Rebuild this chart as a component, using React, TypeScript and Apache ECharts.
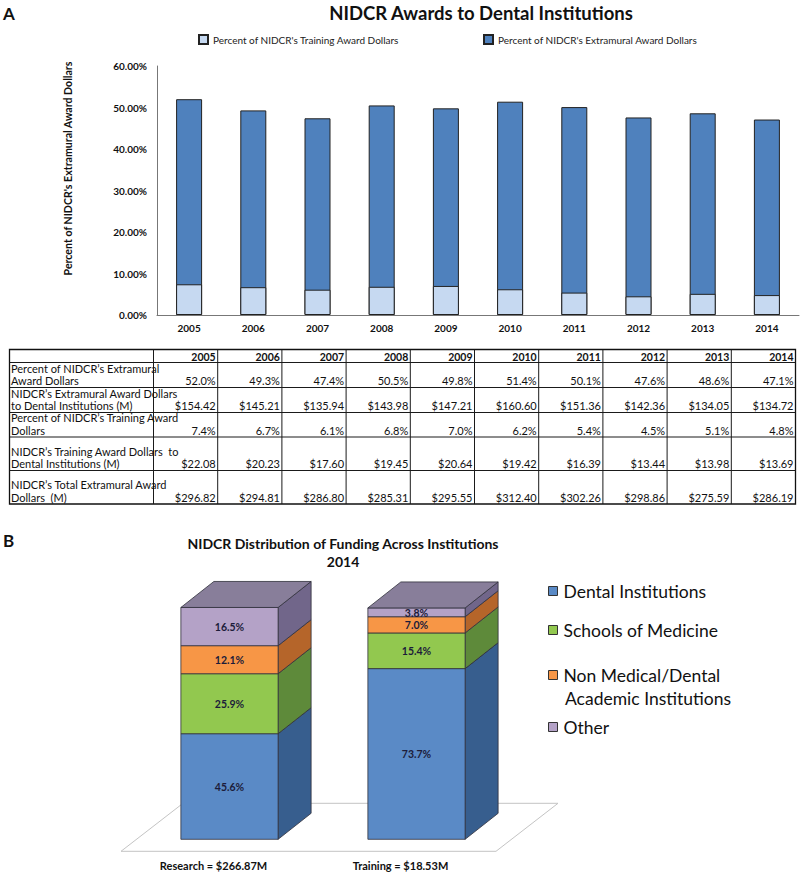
import React, { useEffect, useRef } from 'react';
import * as echarts from 'echarts';

// ---------- Data ----------
const years = ['2005', '2006', '2007', '2008', '2009', '2010', '2011', '2012', '2013', '2014'];
const extramuralPct = [52.0, 49.3, 47.4, 50.5, 49.8, 51.4, 50.1, 47.6, 48.6, 47.1];
const extramuralDollars = [154.42, 145.21, 135.94, 143.98, 147.21, 160.6, 151.36, 142.36, 134.05, 134.72];
const trainingPct = [7.4, 6.7, 6.1, 6.8, 7.0, 6.2, 5.4, 4.5, 5.1, 4.8];
const trainingDollars = [22.08, 20.23, 17.6, 19.45, 20.64, 19.42, 16.39, 13.44, 13.98, 13.69];
const totalDollars = [296.82, 294.81, 286.8, 285.31, 295.55, 312.4, 302.26, 298.86, 275.59, 286.19];

const yMin = 0;
const yMax = 60;
const yInterval = 10;

const tableLabels = [
  'Percent of NIDCR’s Extramural\nAward Dollars',
  'NIDCR’s Extramural Award Dollars\nto Dental Institutions (M)',
  'Percent of NIDCR’s Training Award\nDollars',
  'NIDCR’s Training Award Dollars  to\nDental Institutions (M)',
  'NIDCR’s Total Extramural Award\nDollars  (M)',
];

const fundingCategories = ['Research', 'Training'];
const fundingTotals = [266.87, 18.53];
const institutionTypes = ['Dental Institutions', 'Schools of Medicine', 'Non Medical/Dental Academic Institutions', 'Other'];
const dentalShare = [45.6, 73.7];
const medicineShare = [25.9, 15.4];
const nonMedicalShare = [12.1, 7.0];
const otherShare = [16.5, 3.8];

// ---------- Styles ----------
const FONT = 'Lato, "Noto Sans", sans-serif';
const TRAIN_NAME = "Percent of NIDCR's Training Award Dollars";
const EXTRA_NAME = "Percent of NIDCR's Extramural Award Dollars";

const instColors = [
  { front: '#5A8AC6', side: '#375E8E', top: '#3F6A9E' },
  { front: '#92C84F', side: '#5E8A3A', top: '#6E9B45' },
  { front: '#F79646', side: '#B5652A', top: '#C87433' },
  { front: '#B4A2C7', side: '#71668A', top: '#887E9A' },
];

const pct1 = (v: number) => v.toFixed(1) + '%';
const money = (v: number) => '$' + v.toFixed(2);

function txt(x: number, y: number, text: string, font: string, align: string, vAlign: string, extra: any = {}) {
  return {
    type: 'text',
    x,
    y,
    style: {
      text, fill: '#111', font,
      align, verticalAlign: vAlign, textAlign: align, textVerticalAlign: vAlign,
      ...extra,
    },
  };
}

function buildTable(): any[] {
  const rows = [
    { values: extramuralPct, fmt: pct1 },
    { values: extramuralDollars, fmt: money },
    { values: trainingPct, fmt: pct1 },
    { values: trainingDollars, fmt: money },
    { values: totalDollars, fmt: money },
  ];
  const x0 = 9.5;
  const labelRight = 153.5;
  const colW = 64.2;
  const top = 349.5;
  const rowH = [13, 25, 25, 24.5, 33.5, 33.5];
  const right = labelRight + colW * years.length;
  const totalH = rowH.reduce((a, b) => a + b, 0);
  const els: any[] = [];
  const lineStyle = { stroke: '#1a1a1a', lineWidth: 1 };
  els.push({
    type: 'rect',
    shape: { x: x0, y: top, width: right - x0, height: totalH },
    style: { fill: 'transparent', stroke: '#111', lineWidth: 1.3 },
  });
  let y = top;
  const bottoms: number[] = [];
  rowH.forEach((h, i) => {
    y += h;
    bottoms.push(y);
    if (i < rowH.length - 1) {
      els.push({ type: 'line', shape: { x1: x0, y1: y, x2: right, y2: y }, style: lineStyle });
    }
  });
  for (let k = 0; k < years.length; k++) {
    const x = labelRight + k * colW;
    els.push({ type: 'line', shape: { x1: x, y1: top, x2: x, y2: top + totalH }, style: lineStyle });
  }
  years.forEach((yr, k) => {
    const xr = labelRight + (k + 1) * colW - 2;
    els.push(txt(xr, top + rowH[0] / 2 + 0.5, yr, `bold 10.5px ${FONT}`, 'right', 'middle'));
  });
  rows.forEach((row, r) => {
    const yb = bottoms[r + 1];
    els.push(txt(11, yb - 0.5, tableLabels[r], `11px ${FONT}`, 'left', 'bottom', { lineHeight: 12.5 }));
    row.values.forEach((v, k) => {
      const xr = labelRight + (k + 1) * colW - 2;
      els.push(txt(xr, yb - 0.5, row.fmt(v), `11px ${FONT}`, 'right', 'bottom', { lineHeight: 12.5 }));
    });
  });
  return els;
}

const DX = 33;
const DY = -26;

function makeInstSeries(idx: number, shares: number[][]): any {
  const own = shares[idx];
  const data = own.map((v, i) => {
    let base = 0;
    for (let j = 0; j < idx; j++) base += shares[j][i];
    return [i, base, v];
  });
  const c = instColors[idx];
  const isTop = idx === shares.length - 1;
  return {
    name: institutionTypes[idx],
    type: 'custom',
    xAxisIndex: 1,
    yAxisIndex: 1,
    itemStyle: { color: c.front },
    encode: { x: 0, y: 1 },
    data,
    z: 3 + idx,
    renderItem: (params: any, api: any) => {
      const xi = api.value(0);
      const base = api.value(1);
      const val = api.value(2);
      const p0 = api.coord([xi, base]);
      const p1 = api.coord([xi, base + val]);
      const bw = api.size([1, 0])[0] * 0.52;
      const xl = p0[0] - bw / 2;
      const xr = p0[0] + bw / 2;
      const yb = p0[1];
      const yt = p1[1];
      const stroke = '#2f2f3a';
      const children: any[] = [
        {
          type: 'polygon',
          shape: { points: [[xr, yb], [xr, yt], [xr + DX, yt + DY], [xr + DX, yb + DY]] },
          style: { fill: c.side, stroke, lineWidth: 0.8 },
        },
        {
          type: 'rect',
          shape: { x: xl, y: yt, width: bw, height: yb - yt },
          style: { fill: c.front, stroke, lineWidth: 0.8 },
        },
      ];
      if (isTop) {
        children.push({
          type: 'polygon',
          shape: { points: [[xl, yt], [xr, yt], [xr + DX, yt + DY], [xl + DX, yt + DY]] },
          style: { fill: c.top, stroke, lineWidth: 0.8 },
        });
      }
      children.push({
        type: 'text',
        x: (xl + xr) / 2,
        y: (yt + yb) / 2 + 0.5,
        style: {
          text: val.toFixed(1) + '%', fill: '#1c1c3a', font: `bold 10.5px ${FONT}`,
          align: 'center', verticalAlign: 'middle', textAlign: 'center', textVerticalAlign: 'middle',
        },
      });
      return { type: 'group', children };
    },
  };
}

export default function App() {
  const ref = useRef<HTMLDivElement>(null);
  useEffect(() => {
    if (!ref.current) return;
    const chart = echarts.init(ref.current, undefined, { renderer: 'svg' });
    const shares = [dentalShare, medicineShare, nonMedicalShare, otherShare];

    const legendCenters = [591, 630, 675, 727];
    const legendB = institutionTypes.map((name, i) => ({
      data: [name],
      left: 543,
      top: legendCenters[i] - 10 - 5,
      icon: 'rect',
      itemWidth: 9,
      itemHeight: 9,
      itemGap: 0,
      itemStyle: { borderColor: '#333', borderWidth: 1 },
      selectedMode: false,
      formatter: (n: string) => (i === 2 ? 'Non Medical/Dental' : n),
      textStyle: { fontFamily: FONT, fontSize: 17.5, color: '#111', lineHeight: 20, padding: [0, 0, 0, 1] },
    }));

    const option: any = {
      animation: false,
      textStyle: { fontFamily: FONT },
      graphic: [
        txt(3, 13, 'A', `bold 17px ${FONT}`, 'left', 'middle'),
        txt(481, 13, 'NIDCR Awards to Dental Institutions', `bold 18.5px ${FONT}`, 'center', 'middle'),
        txt(3, 540, 'B', `bold 17px ${FONT}`, 'left', 'middle'),
        txt(343, 543, 'NIDCR Distribution of Funding Across Institutions', `bold 14px ${FONT}`, 'center', 'middle'),
        txt(343, 561, '2014', `bold 14px ${FONT}`, 'center', 'middle'),
        txt(565, 698, 'Academic Institutions', `17.5px ${FONT}`, 'left', 'middle'),
        ...buildTable(),
      ],
      legend: [
        {
          data: [TRAIN_NAME], left: 193, top: 29, icon: 'rect', itemWidth: 9, itemHeight: 9, selectedMode: false,
          textStyle: { fontFamily: FONT, fontSize: 10, color: '#222' },
        },
        {
          data: [EXTRA_NAME], left: 478, top: 29, icon: 'rect', itemWidth: 9, itemHeight: 9, selectedMode: false,
          textStyle: { fontFamily: FONT, fontSize: 10, color: '#222' },
        },
        ...legendB,
      ],
      grid: [
        { left: 157, top: 66, width: 642, height: 249 },
        { left: 136, top: 607.7, width: 374, height: 231.6 },
      ],
      xAxis: [
        {
          gridIndex: 0, type: 'category', data: years,
          axisLine: { lineStyle: { color: '#777', width: 1 } },
          axisTick: { show: false },
          axisLabel: { fontFamily: FONT, fontWeight: 'bold', fontSize: 10, color: '#111', margin: 8 },
        },
        {
          gridIndex: 1, type: 'category', data: fundingCategories,
          axisLine: { show: false }, axisTick: { show: false },
          axisLabel: {
            fontFamily: FONT, fontWeight: 'bold', fontSize: 11, color: '#111', margin: 21,
            padding: [0, 32, 0, 0],
            formatter: (v: string, i: number) => `${v} = $${fundingTotals[i].toFixed(2)}M`,
          },
        },
      ],
      yAxis: [
        {
          gridIndex: 0, type: 'value', min: yMin, max: yMax, interval: yInterval,
          name: EXTRA_NAME, nameLocation: 'middle', nameGap: 84, nameRotate: 90,
          nameTextStyle: { fontFamily: FONT, fontWeight: 'bold', fontSize: 10.6, color: '#111', padding: [0, 0, 0, 44] },
          axisLine: { show: true, lineStyle: { color: '#777', width: 1 } },
          axisTick: { show: false },
          splitLine: { show: false },
          axisLabel: {
            fontFamily: FONT, fontWeight: 'bold', fontSize: 10, color: '#111', margin: 10,
            formatter: (v: number) => v.toFixed(2) + '%',
          },
        },
        { gridIndex: 1, type: 'value', min: 0, max: 100, show: false },
      ],
      series: [
        {
          name: EXTRA_NAME, type: 'bar', xAxisIndex: 0, yAxisIndex: 0, data: extramuralPct,
          barWidth: 26, barGap: '-100%',
          itemStyle: { color: '#4F81BD', borderColor: '#222', borderWidth: 1 },
        },
        {
          name: TRAIN_NAME, type: 'bar', xAxisIndex: 0, yAxisIndex: 0, data: trainingPct,
          barWidth: 26, barGap: '-100%',
          itemStyle: { color: '#C6D9F1', borderColor: '#222', borderWidth: 1 },
        },
        {
          name: 'floor', type: 'custom', xAxisIndex: 1, yAxisIndex: 1, data: [[0, 0]], z: 1,
          silent: true,
          renderItem: (params: any) => {
            const cs = params.coordSys;
            const fy = cs.y + cs.height + 12;
            const fl = cs.x - 15;
            const fr = cs.x + cs.width - 14;
            return {
              type: 'polygon',
              shape: { points: [[fl, fy], [fr, fy], [fr + 62, fy - 48], [fl + 62, fy - 48]] },
              style: { fill: 'transparent', stroke: '#c4c4c4', lineWidth: 1 },
            };
          },
        },
        ...shares.map((_, i) => makeInstSeries(i, shares)),
      ],
    };
    chart.setOption(option);
    return () => chart.dispose();
  }, []);
  return <div ref={ref} style={{ position: 'absolute', left: 0, top: 0, width: 800, height: 872 }} />;
}
